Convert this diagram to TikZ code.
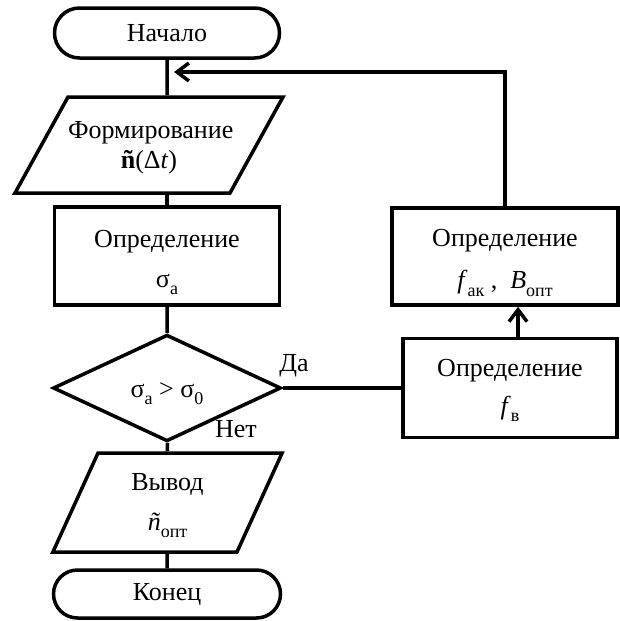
\documentclass[tikz,border=0pt]{standalone}
\usepackage{fontspec}
\setmainfont{Liberation Serif}
\usepackage{tikz}
\usetikzlibrary{calc,arrows.meta}
\usetikzlibrary{shapes,shapes.misc}
\newcommand{\low}[1]{\raisebox{-0.3em}{\fontsize{18}{18}\selectfont #1}}

\begin{document}
\begin{tikzpicture}[x=1pt,y=-1pt,line width=3.5pt,
	>={Straight Barb[length=12pt,width=18pt]},
	font=\fontsize{26}{30}\selectfont,
	term node/.style = {rounded rectangle,draw,inner sep=0pt,minimum width=225,minimum height=50},
	io node/.style = {trapezium,trapezium stretches=true,draw,inner sep=0pt,align=center},
	proc node/.style = {rectangle,draw,inner sep=0pt,minimum width=225,minimum height=98,
		align=center,text height=70pt},
	cond node/.style = {diamond,draw,inner sep=0pt,minimum width=228,minimum height=99,text height=26pt}]
	\useasboundingbox (0,0) rectangle (619,621);
	\node[term node] at (167,33) (1) {Начало};
	\node[io node,trapezium left angle=61.1,trapezium right angle=118.9,
		text width=162pt,text height=41pt,text depth=55pt] at (149,145) (2) {Формирование\\\textbf{ñ}(Δ\textit{t})};
	\node[proc node] at (167,256) (3) {Определение\\[10pt]σ\low{а}};
	\node[cond node] at (167,388) (4) {σ\low{а} > σ\low{0}};
	\node[io node,trapezium left angle=65.5,trapezium right angle=114.5,
		text width=139pt,text height=37pt,text depth=62pt] at (167.5,502.5) (5) {Вывод\\[10pt]\textit{ñ}\low{опт}};
	\node[term node,minimum width=227,minimum height=48] at (167,594) (6) {Конец};
	\node[proc node,minimum width=226,minimum height=97,text height=72pt] at (505,256.5) (7) {Определение\\[12pt]\textit{f}\low{ак} ,\ \ \textit{B}\low{опт}};
	\node[proc node,minimum width=214,minimum height=99,text height=60pt] at (510,388) (8) {Определение\\[8pt]\textit{f}\low{в}};
	\node at (294,366) (9) {Да};
	\node at (236,429) (10) {Нет};
	\coordinate (11) at (174,72);
	\draw (1)--(1 |- 2.north);
	\draw (3.north |- 2.south)--(3);
	\draw (3)--(4)--(5)--(6);
	\draw (4.east)--(8.west);
	\draw[->] ([xshift=8]8.north)--([xshift=8]8.north |- 7.south);
	\draw[->] (7.north) |- (11);
\end{tikzpicture}
\end{document}
